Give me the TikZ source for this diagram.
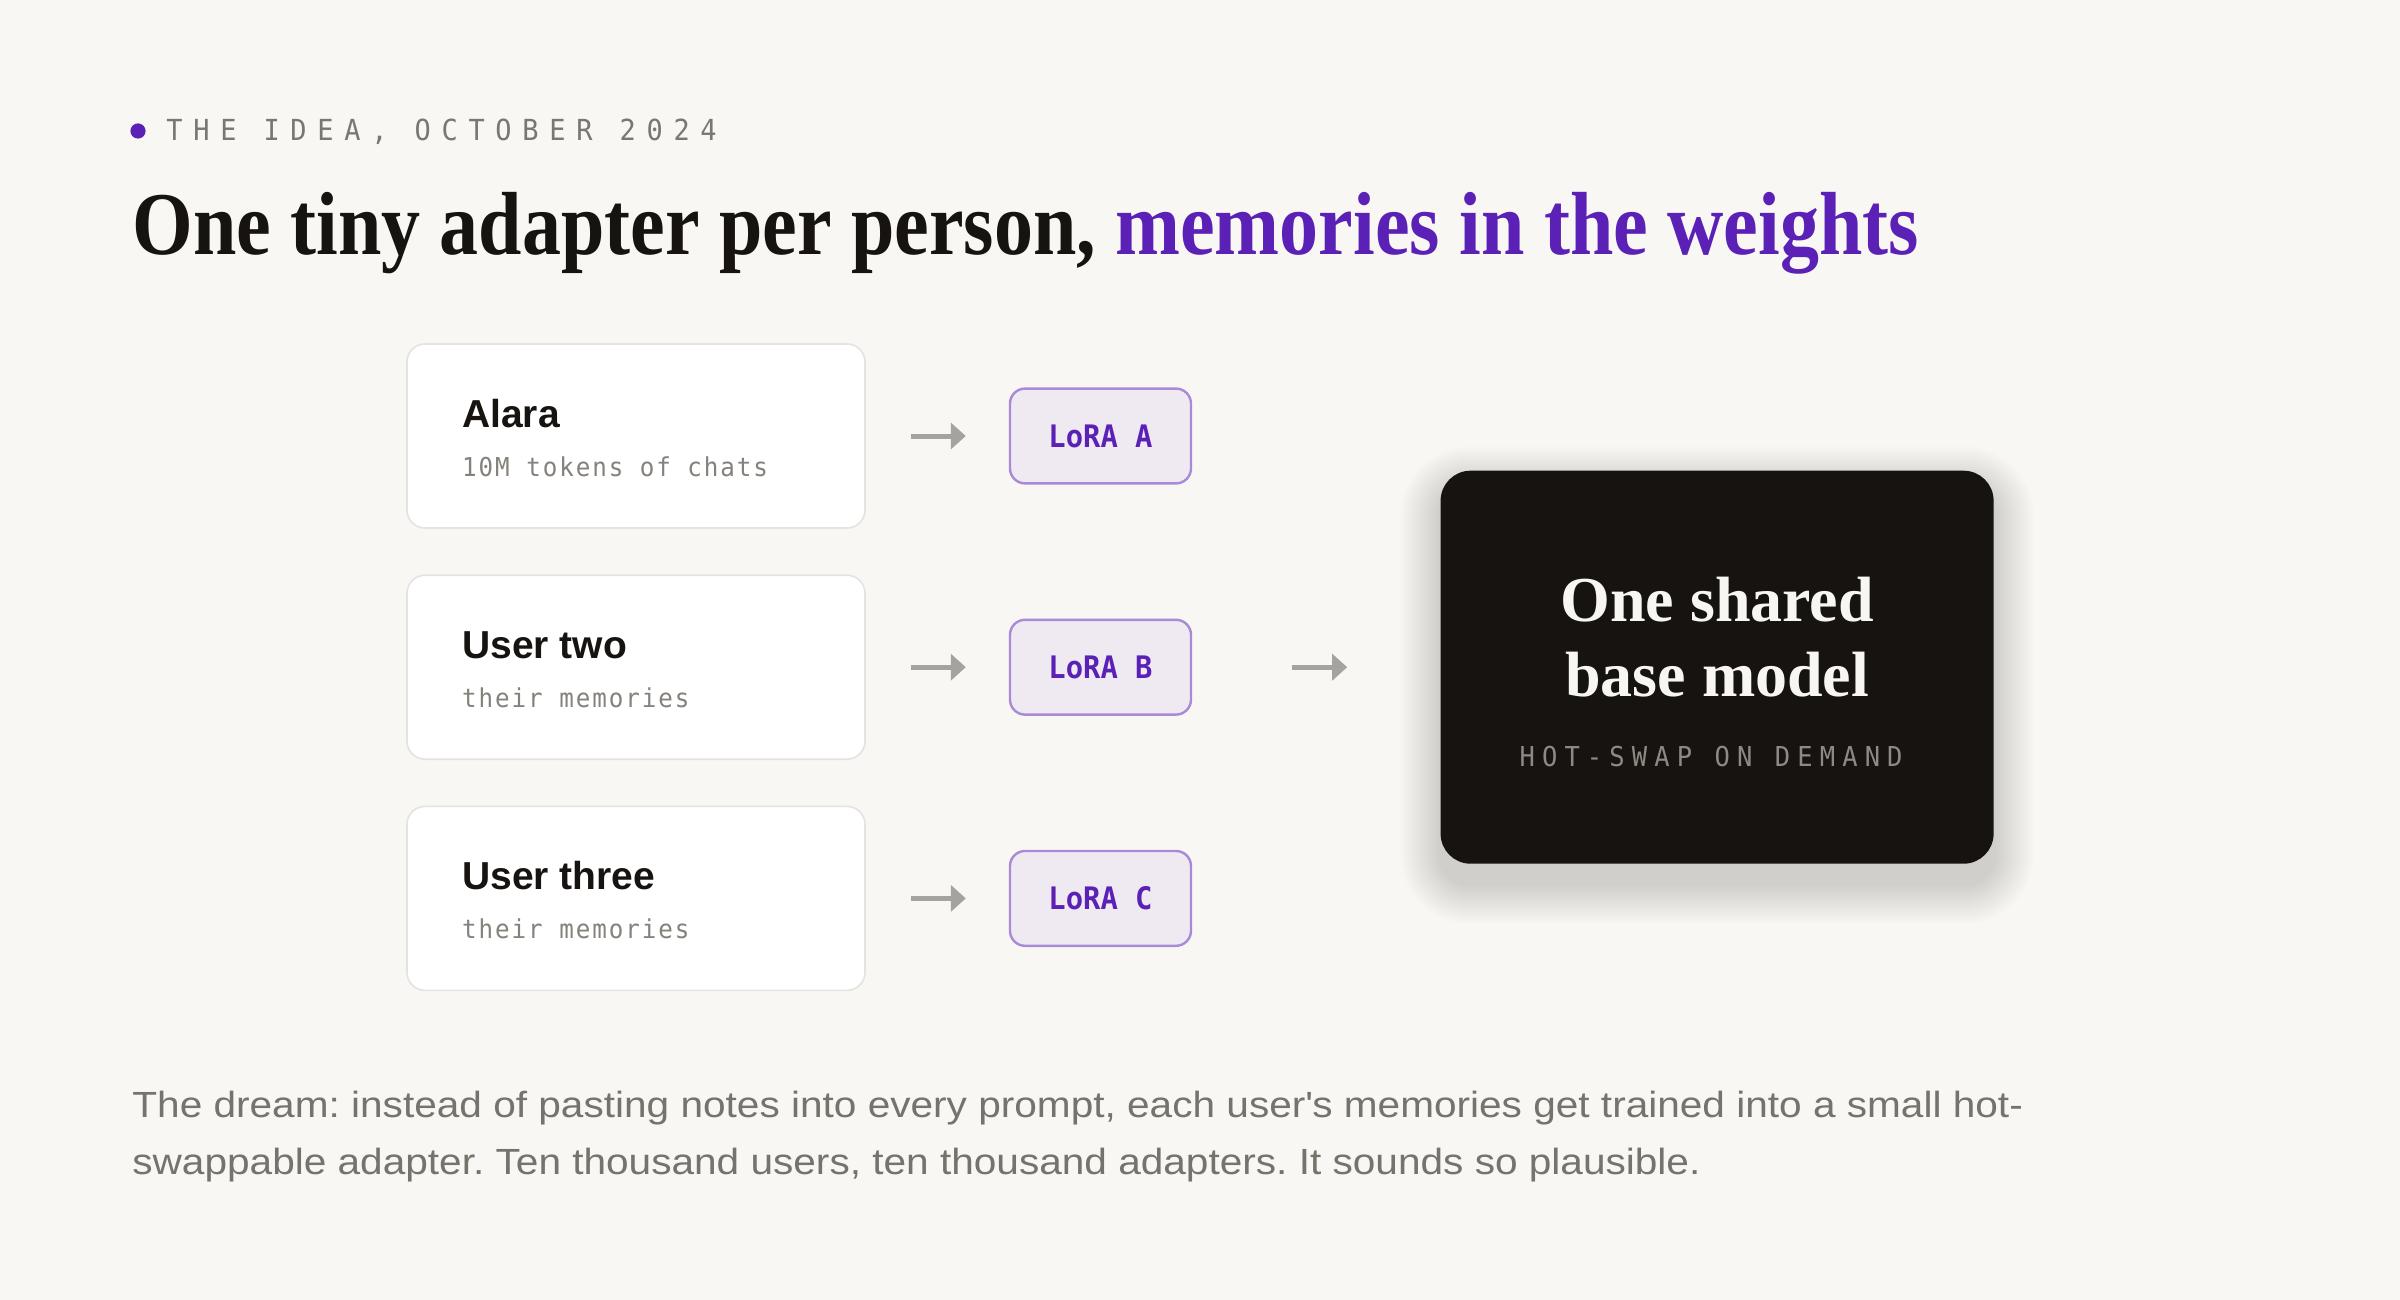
\documentclass[tikz,border=0pt]{standalone}
\usepackage{fontspec}
\setmainfont{Liberation Serif}
\setsansfont{Liberation Sans}
\newfontfamily\headfont{Liberation Serif}[FakeStretch=0.87]
\newfontfamily\bodyfont{Liberation Sans}[FakeStretch=1.115]
\newfontfamily\kickerfont{DejaVu Sans Mono}[FakeStretch=0.93,LetterSpace=37]
\newfontfamily\tagfont{DejaVu Sans Mono}[FakeStretch=0.93,LetterSpace=26]
\newfontfamily\codefont{DejaVu Sans Mono}[FakeStretch=0.93,LetterSpace=7.5]
\newfontfamily\lorafont{DejaVu Sans Mono}[FakeStretch=0.93]
\usetikzlibrary{positioning,arrows.meta}

\definecolor{paper}{HTML}{F8F7F3}
\definecolor{ink}{HTML}{161310}
\definecolor{grape}{HTML}{5B21B6}
\definecolor{lilac}{HTML}{EFEAF2}
\definecolor{lilacline}{HTML}{A98AD6}
\definecolor{cardline}{HTML}{E5E3DF}
\definecolor{muted}{HTML}{76726C}
\definecolor{datagray}{HTML}{85817B}
\definecolor{kickergray}{HTML}{7A7670}
\definecolor{arrowgray}{HTML}{A6A39E}
\definecolor{taggray}{HTML}{8E8983}
\definecolor{snow}{HTML}{F8F6F1}

\pgfdeclarelayer{backdrop}
\pgfdeclarelayer{shade}
\pgfsetlayers{backdrop,shade,main}

\frenchspacing

\begin{document}
\begin{tikzpicture}[x=1pt, y=-1pt, line cap=round, line join=round,
    user/.style={draw=cardline, line width=0.8pt, fill=white, rounded corners=9pt,
        minimum width=229pt, minimum height=92pt, inner sep=0pt},
    who/.style={font=\sffamily\bfseries\fontsize{19.5}{22}\selectfont, text=ink, inner sep=0pt},
    what/.style={font=\codefont\fontsize{13}{15}\selectfont, text=datagray, inner sep=0pt},
    lora/.style={draw=lilacline, line width=1.2pt, fill=lilac, rounded corners=7.5pt,
        minimum width=90.5pt, minimum height=47.4pt, inner sep=0pt,
        font=\lorafont\bfseries\fontsize{15.5}{18}\selectfont, text=grape},
    flow/.style={draw=arrowgray, line width=2.5pt, line cap=butt,
        -{Triangle[width=13pt, length=7.5pt]}},
    base/.style={fill=ink, rounded corners=15pt, minimum width=276.5pt, minimum height=196.5pt},
    basetext/.style={font=\bfseries\fontsize{32}{36}\selectfont, text=snow, inner sep=0pt},
    para/.style={font=\bodyfont\fontsize{18.2}{28}\selectfont, text=muted, inner sep=0pt, anchor=base west}]

    \begin{pgfonlayer}{backdrop}
        \path[use as bounding box, fill=paper] (0,0) rectangle (1200,650);
    \end{pgfonlayer}

    % kicker and headline
    \fill[grape] (69,65.5) circle (3.8pt);
    \node[anchor=base west, inner sep=0pt, text=kickergray, font=\kickerfont\fontsize{14.5}{16}\selectfont]
        (kicker) at (83,70.3) {THE IDEA, OCTOBER 2024};
    \node[anchor=base west, inner sep=0pt, font=\headfont\bfseries\fontsize{44.8}{50}\selectfont]
        (headline) at (66,127.5) {\textcolor{ink}{One tiny adapter per person,} \textcolor{grape}{memories in the weights}};

    % users
    \node[user] (alara) at (318,218) {};
    \node[user, below=22.8pt of alara] (usertwo) {};
    \node[user, below=22.8pt of usertwo] (userthree) {};

    \node[who, anchor=base west] (alaraname) at ([xshift=27.8pt, yshift=4.3pt]alara.west) {Alara};
    \node[what, anchor=base west] (alaradata) at ([xshift=27.8pt, yshift=-20pt]alara.west) {10M tokens of chats};
    \node[who, anchor=base west] (twoname) at ([xshift=27.8pt, yshift=4.3pt]usertwo.west) {User two};
    \node[what, anchor=base west] (twodata) at ([xshift=27.8pt, yshift=-20pt]usertwo.west) {their memories};
    \node[who, anchor=base west] (threename) at ([xshift=27.8pt, yshift=4.3pt]userthree.west) {User three};
    \node[what, anchor=base west] (threedata) at ([xshift=27.8pt, yshift=-20pt]userthree.west) {their memories};

    % adapters
    \node[lora, right=71.5pt of alara] (loraa) {LoRA A};
    \node[lora, right=71.5pt of usertwo] (lorab) {LoRA B};
    \node[lora, right=71.5pt of userthree] (lorac) {LoRA C};

    \draw[flow] ([xshift=22.5pt]alara.east) -- ([xshift=-21.5pt]loraa.west);
    \draw[flow] ([xshift=22.5pt]usertwo.east) -- ([xshift=-21.5pt]lorab.west);
    \draw[flow] ([xshift=22.5pt]userthree.east) -- ([xshift=-21.5pt]lorac.west);

    % shared model, soft shadow underneath
    \node[base, right=124pt of lorab] (model) {};
    \begin{pgfonlayer}{shade}
        \foreach \g [evaluate=\g as \r using 15+\g] in {1,...,20}
            \fill[black, fill opacity=0.008, rounded corners=\r pt]
                ([xshift=-\g pt, yshift=-10pt-\g pt]model.south west) rectangle ([xshift=\g pt, yshift=-8pt+\g pt]model.north east);
    \end{pgfonlayer}
    \node[basetext, anchor=base] (modelone) at ([yshift=22.7pt]model.center) {One shared};
    \node[basetext, anchor=base] (modeltwo) at ([yshift=-14.8pt]model.center) {base model};
    \node[anchor=base, inner sep=0pt, text=taggray, font=\tagfont\fontsize{13.7}{16}\selectfont]
        (modeltag) at ([xshift=-3pt, yshift=-49.8pt]model.center) {HOT-SWAP ON DEMAND};

    \draw[flow] ([xshift=50pt]lorab.east) -- ([xshift=-46.5pt]model.west);

    % caption
    \node[para] (dreamone) at (66,558.5) {The dream: instead of pasting notes into every prompt, each user\textquotesingle s memories get trained into a small hot-};
    \node[para] (dreamtwo) at (66,587) {swappable adapter. Ten thousand users, ten thousand adapters. It sounds so plausible.};

\end{tikzpicture}
\end{document}
